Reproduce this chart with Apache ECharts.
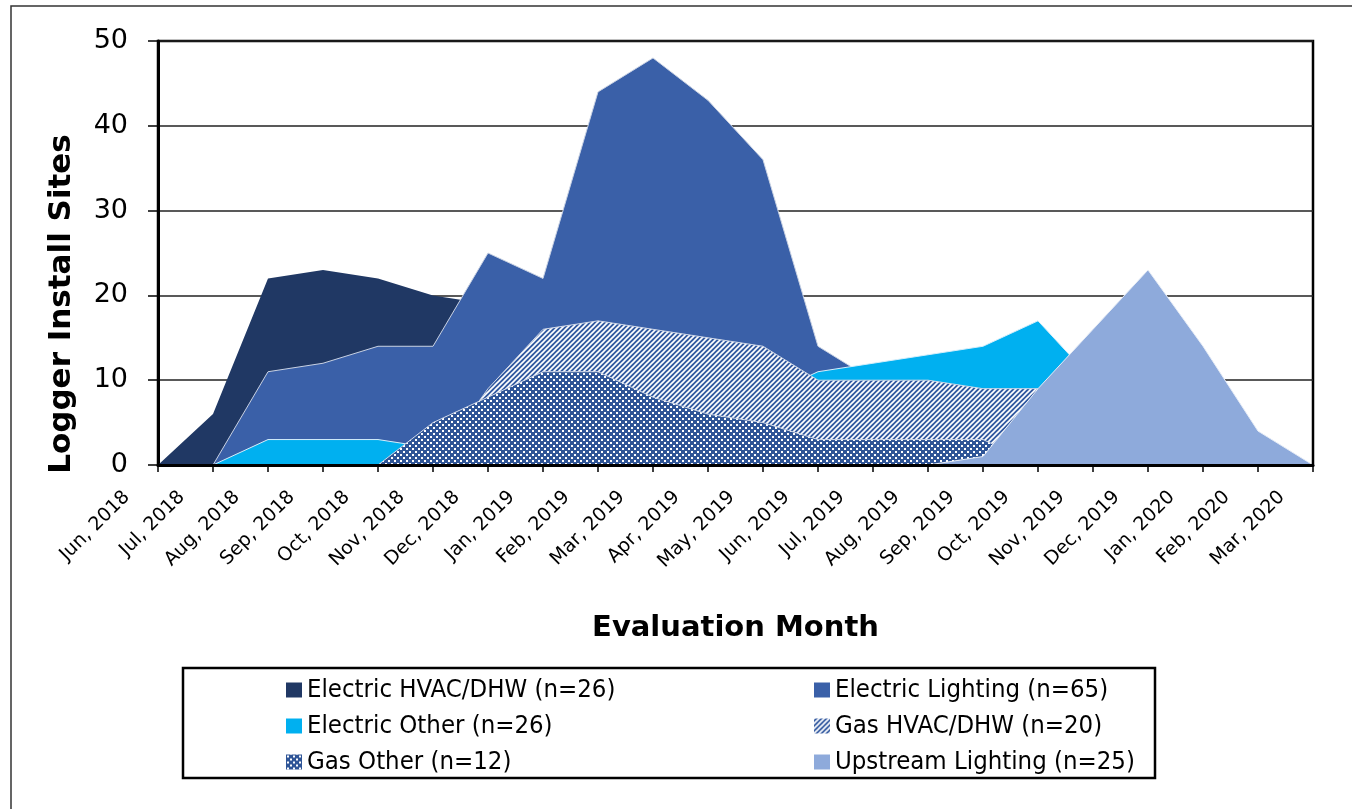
<!DOCTYPE html>
<html>
<head>
<meta charset="utf-8">
<title>Logger Install Sites</title>
<script src="https://cdn.jsdelivr.net/npm/echarts@6/dist/echarts.min.js"></script>
<style>
  html, body { margin: 0; padding: 0; background: #fff; }
  #chart { width: 1352px; height: 809px; }
</style>
</head>
<body>
<div id="chart"></div>
<script>
const months = [
  'Jun, 2018', 'Jul, 2018', 'Aug, 2018', 'Sep, 2018', 'Oct, 2018', 'Nov, 2018',
  'Dec, 2018', 'Jan, 2019', 'Feb, 2019', 'Mar, 2019', 'Apr, 2019', 'May, 2019',
  'Jun, 2019', 'Jul, 2019', 'Aug, 2019', 'Sep, 2019', 'Oct, 2019', 'Nov, 2019',
  'Dec, 2019', 'Jan, 2020', 'Feb, 2020', 'Mar, 2020'
]

// values (parts hidden behind other areas are estimates)
const electricHvac = [0, 6, 22, 23, 22, 20, 19, 15, 12, 10, 8, 6, 4, 2, 0, 0, 0, 0, 0, 0, 0, 0]
const electricLighting = [0, 0, 11, 12, 14, 14, 25, 22, 44, 48, 43, 36, 14, 10, 8, 6, 4, 2, 0, 0, 0, 0]
const electricOther = [0, 0, 3, 3, 3, 2, 2, 3, 4, 5, 6, 8, 11, 12, 13, 14, 17, 10, 0, 0, 0, 0]
const gasHvac = [0, 0, 0, 0, 0, 0, 9, 16, 17, 16, 15, 14, 10, 10, 10, 9, 9, 0, 0, 0, 0, 0]
const gasOther = [0, 0, 0, 0, 0, 5, 8, 11, 11, 8, 6, 5, 3, 3, 3, 3, 0, 0, 0, 0, 0, 0]
const upstreamLighting = [0, 0, 0, 0, 0, 0, 0, 0, 0, 0, 0, 0, 0, 0, 0, 1, 9, 16, 23, 14, 4, 0]

const seriesNames = [
  'Electric HVAC/DHW (n=26)',
  'Electric Lighting (n=65)',
  'Electric Other (n=26)',
  'Gas HVAC/DHW (n=20)',
  'Gas Other (n=12)',
  'Upstream Lighting (n=25)'
]

// small canvas tiles for the hatched / dotted fills
const makeHatch = () => {
  const c = document.createElement('canvas')
  c.width = 5
  c.height = 5
  const ctx = c.getContext('2d')
  ctx.fillStyle = '#3259a0'
  ctx.fillRect(0, 0, 5, 5)
  ctx.strokeStyle = '#ffffff'
  ctx.lineWidth = 1.6
  ctx.beginPath()
  ctx.moveTo(-1, 6); ctx.lineTo(6, -1)
  ctx.moveTo(-1, 1); ctx.lineTo(1, -1)
  ctx.moveTo(4, 6); ctx.lineTo(6, 4)
  ctx.stroke()
  return c
}

const makeDots = () => {
  const c = document.createElement('canvas')
  c.width = 6
  c.height = 6
  const ctx = c.getContext('2d')
  ctx.fillStyle = '#2f5597'
  ctx.fillRect(0, 0, 6, 6)
  ctx.fillStyle = '#ffffff'
  ctx.fillRect(1, 1, 2, 2)
  ctx.fillRect(4, 4, 2, 2)
  return c
}

const hatchFill = { image: makeHatch(), repeat: 'repeat' }
const dotFill = { image: makeDots(), repeat: 'repeat' }

const fills = ['#203864', '#3a60a8', '#00b0f0', hatchFill, dotFill, '#8eaadb']
const edgeColors = ['#203864', '#c9d2e3', '#d6eefa', '#d0d8e8', '#d0d8e8', '#e6ecf6']
const values = [electricHvac, electricLighting, electricOther, gasHvac, gasOther, upstreamLighting]

const chart = echarts.init(document.getElementById('chart'))

const legendFont = "'DejaVu Sans Condensed', 'Liberation Sans Narrow', sans-serif"

const legendItem = (i) => ({
  name: seriesNames[i],
  icon: 'rect',
  itemStyle: { color: fills[i], borderWidth: 0 }
})

const legendBase = {
  orient: 'vertical',
  top: 672,
  itemWidth: 16,
  itemHeight: 15,
  itemGap: 10,
  textStyle: { fontFamily: legendFont, fontSize: 25.5, color: '#000', lineHeight: 25 }
}

const option = {
  backgroundColor: '#ffffff',
  animation: false,
  textStyle: { fontFamily: "'DejaVu Sans', Verdana, sans-serif" },
  grid: {
    left: 158,
    right: 39,
    top: 41,
    bottom: 344,
    show: true,
    borderColor: '#000',
    borderWidth: 2.5,
    backgroundColor: 'transparent'
  },
  legend: [
    Object.assign({}, legendBase, { left: 281, data: [legendItem(0), legendItem(2), legendItem(4)] }),
    Object.assign({}, legendBase, { left: 809, data: [legendItem(1), legendItem(3), legendItem(5)] })
  ],
  graphic: [
    {
      type: 'rect',
      shape: { x: 11, y: 6, width: 1400, height: 900 },
      style: { fill: 'none', stroke: '#333', lineWidth: 1.5 },
      silent: true
    },
    {
      type: 'rect',
      shape: { x: 183, y: 668, width: 972, height: 110 },
      style: { fill: 'none', stroke: '#000', lineWidth: 2.5 },
      silent: true
    },
    {
      type: 'text',
      x: 62,
      y: 304,
      rotation: Math.PI / 2,
      style: {
        text: 'Logger Install Sites',
        fontSize: 31,
        fontWeight: 'bold',
        fontFamily: "'DejaVu Sans', Verdana, sans-serif",
        fill: '#000',
        align: 'center',
        verticalAlign: 'middle'
      },
      silent: true
    }
  ],
  xAxis: {
    type: 'category',
    boundaryGap: false,
    data: months,
    z: 20,
    name: 'Evaluation Month',
    nameLocation: 'middle',
    nameGap: 149,
    nameTextStyle: { fontSize: 29, fontWeight: 'bold', color: '#000' },
    axisLine: { lineStyle: { color: '#000', width: 3 } },
    axisTick: { show: true, length: 7, lineStyle: { color: '#000', width: 1.5 } },
    axisLabel: { rotate: 45, fontSize: 19, color: '#000', margin: -2, padding: [0, 44, 0, 0], interval: 0 },
    splitLine: { show: false }
  },
  yAxis: {
    type: 'value',
    min: 0,
    max: 50,
    interval: 10,
    axisLine: { show: true, lineStyle: { color: '#000', width: 3 } },
    axisTick: { show: true, length: 10, lineStyle: { color: '#000', width: 1.5 } },
    axisLabel: { fontSize: 27, color: '#000', margin: 30 },
    splitLine: { lineStyle: { color: '#222', width: 1.5 } }
  },
  series: values.map((data, i) => ({
    name: seriesNames[i],
    type: 'line',
    z: 2 + i,
    data: data,
    showSymbol: false,
    smooth: false,
    itemStyle: { color: typeof fills[i] === 'string' ? fills[i] : '#3259a0' },
    lineStyle: { width: i === 0 ? 0 : 1, color: edgeColors[i] },
    areaStyle: { color: fills[i], opacity: 1 }
  }))
}

chart.setOption(option)
</script>
</body>
</html>
